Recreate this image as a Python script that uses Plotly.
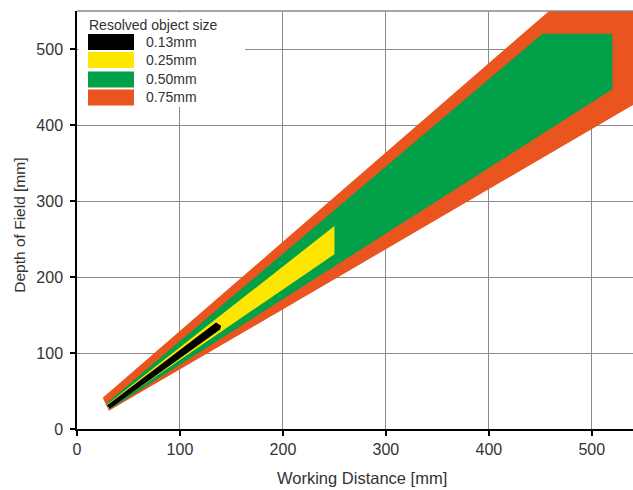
import plotly.graph_objects as go

# ---- data ----
sizes = ["0.13mm", "0.25mm", "0.50mm", "0.75mm"]
colors = ["#000000", "#FFE600", "#03A04A", "#E9541F"]

black_x = [29, 135, 140, 139, 32]
black_y = [31, 140, 136, 131, 27]

yellow_x = [29, 250, 250, 31]
yellow_y = [32, 267, 230, 27]

green_x = [28, 452, 520, 520, 32]
green_y = [33, 520, 520, 447, 26]

orange_x = [25, 467, 560, 560, 31]
orange_y = [41, 560, 560, 442, 24]

x_ticks = [0, 100, 200, 300, 400, 500]
y_ticks = [0, 100, 200, 300, 400, 500]
x_range = [0, 540]
y_range = [0, 550]

legend_title = "Resolved object size"
x_title = "Working Distance [mm]"
y_title = "Depth of Field [mm]"

# ---- figure ----
polys = [(black_x, black_y), (yellow_x, yellow_y), (green_x, green_y), (orange_x, orange_y)]

fig = go.Figure()
for i in reversed(range(len(sizes))):
    px_, py_ = polys[i]
    fig.add_trace(go.Scatter(
        x=px_, y=py_, name=sizes[i], mode="lines", fill="toself",
        fillcolor=colors[i], line=dict(width=0, color=colors[i]),
        showlegend=False, hoverinfo="name",
    ))

W, H = 633, 490
L, R, T, B = 77, 0, 11, 60.5
pw, ph = W - L - R, H - T - B


def fx(p):
    return (p - L) / pw


def fy(p):
    return (H - B - p) / ph


shapes = []
annotations = []

# legend background (covers gridlines)
shapes.append(dict(type="rect", xref="paper", yref="paper", layer="above",
                   x0=fx(78.5), x1=fx(245), y0=fy(107), y1=fy(12.5),
                   fillcolor="white", line=dict(width=0)))
# top border
shapes.append(dict(type="line", xref="paper", yref="paper", layer="above",
                   x0=0, x1=1, y0=1, y1=1, line=dict(color="#8a8a8a", width=1.5)))

annotations.append(dict(xref="paper", yref="paper", x=fx(87), y=fy(25.5),
                        xanchor="left", yanchor="middle", showarrow=False,
                        text=legend_title, font=dict(size=14, color="#333333")))
row_centers = [42, 60, 79.5, 97.5]
for name, col, yc in zip(sizes, colors, row_centers):
    shapes.append(dict(type="rect", xref="paper", yref="paper", layer="above",
                       x0=fx(88), x1=fx(134), y0=fy(yc + 8), y1=fy(yc - 8),
                       fillcolor=col, line=dict(width=0)))
    annotations.append(dict(xref="paper", yref="paper", x=fx(144), y=fy(yc),
                            xanchor="left", yanchor="middle", showarrow=False,
                            text=name, font=dict(size=14, color="#333333")))

annotations.append(dict(xref="paper", yref="paper", x=fx(362), y=fy(479),
                        xanchor="center", yanchor="middle", showarrow=False,
                        text=x_title, font=dict(size=16.5, color="#333333")))
annotations.append(dict(xref="paper", yref="paper", x=fx(20), y=fy(226),
                        xanchor="center", yanchor="middle", showarrow=False,
                        textangle=-90, text=y_title,
                        font=dict(size=15.5, color="#333333")))

axis_common = dict(
    showgrid=True, gridcolor="#8a8a8a", gridwidth=1,
    showline=True, linecolor="#000000", linewidth=1.5,
    ticks="outside", ticklen=5, tickwidth=1.5, tickcolor="#000000",
    zeroline=False, tickfont=dict(size=16, color="#333333",
                                  family="Liberation Sans, Arial, sans-serif"),
)

fig.update_layout(
    width=W, height=H,
    margin=dict(l=L, r=R, t=T, b=B),
    paper_bgcolor="white", plot_bgcolor="white",
    font=dict(family="Liberation Sans, Arial, sans-serif", color="#333333"),
    xaxis=dict(range=x_range, tickvals=x_ticks, **axis_common),
    yaxis=dict(range=y_range, tickvals=y_ticks, ticklabelstandoff=4, **axis_common),
    shapes=shapes, annotations=annotations, showlegend=False,
)

fig.write_html("out.html",
               config={"displayModeBar": False},
               post_script="document.body.style.margin='0px';document.body.style.overflow='hidden';")
